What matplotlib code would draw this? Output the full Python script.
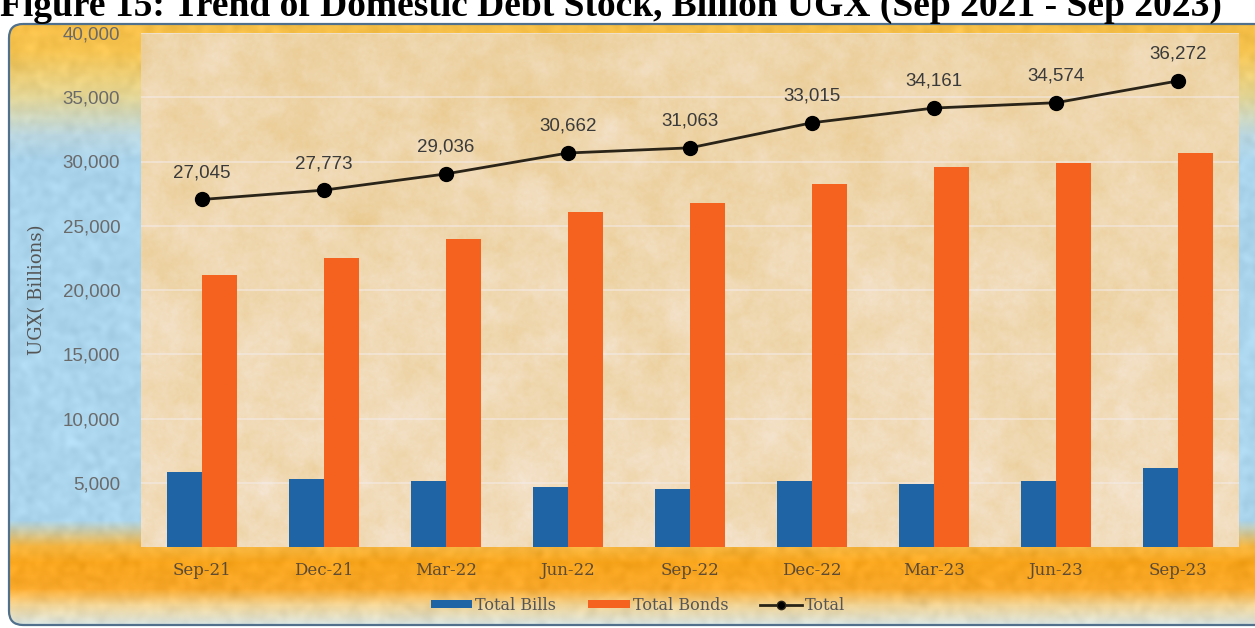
import numpy as np
import matplotlib
matplotlib.use("Agg")
from matplotlib import pyplot as plt
from matplotlib.patches import FancyBboxPatch, Patch
from matplotlib.lines import Line2D

# Domestic debt stock, UGX billions
quarters = ['Sep-21', 'Dec-21', 'Mar-22', 'Jun-22', 'Sep-22',
            'Dec-22', 'Mar-23', 'Jun-23', 'Sep-23']
total_bills = [5850, 5310, 5150, 4690, 4530, 5150, 4920, 5150, 6160]
total_bonds = [21170, 22500, 23970, 26070, 26770, 28250, 29570, 29880, 30660]
total = [27045, 27773, 29036, 30662, 31063, 33015, 34161, 34574, 36272]
y_ticks = [0, 5000, 10000, 15000, 20000, 25000, 30000, 35000, 40000]

W, H = 1255, 628
fig = plt.figure(figsize=(W / 100, H / 100), dpi=100)
fig.patch.set_facecolor('white')


def hex_rgb(c):
    c = c.lstrip('#')
    return np.array([int(c[i:i + 2], 16) / 255 for i in (0, 2, 4)])


def vgrad(h, stops):
    ys = np.arange(h)
    pos = [s[0] for s in stops]
    cols = np.array([hex_rgb(s[1]) for s in stops])
    return np.stack([np.interp(ys, pos, cols[:, k]) for k in range(3)], axis=1)


def smooth_noise(h, w, scale, seed):
    rng = np.random.default_rng(seed)
    n = rng.standard_normal((h, w))
    ky = np.fft.fftfreq(h)[:, None]
    kx = np.fft.fftfreq(w)[None, :]
    g = np.exp(-(kx ** 2 + ky ** 2) * (2 * np.pi * scale) ** 2 / 2)
    s = np.real(np.fft.ifft2(np.fft.fft2(n) * g))
    return (s - s.mean()) / s.std()


# outer panel: orange top, blue middle, orange strip under the axis
bg = fig.add_axes([0, 0, 1, 1], zorder=0)
bg.set_xlim(0, W)
bg.set_ylim(H, 0)
bg.axis('off')
col = vgrad(H, [(0, '#f6b93c'), (50, '#f6c450'), (95, '#e4d594'),
                (135, '#bcd8e2'), (160, '#aad4ec'), (520, '#abd5ec'),
                (546, '#f6b640'), (562, '#f8a51c'), (588, '#f8a82a'),
                (605, '#f1d496'), (628, '#d2e6f0')])
panel = np.repeat(col[:, None, :], W, axis=1)
panel = np.clip(panel + 0.012 * smooth_noise(H, W, 3, 1)[:, :, None], 0, 1)
im = bg.imshow(panel, extent=(0, W, H, 0), aspect='auto', zorder=0)
frame = FancyBboxPatch((9, 24), W + 30, H - 27, boxstyle='round,pad=0,rounding_size=14',
                       facecolor='none', edgecolor='#50708c', linewidth=1.6, zorder=2)
bg.add_patch(frame)
im.set_clip_path(frame)

fig.text(0.0, 1 - 16 / H, 'Figure 15: Trend of Domestic Debt Stock, Billion UGX (Sep 2021 - Sep 2023)',
         fontsize=27, fontweight='bold', family='Liberation Serif', color='black',
         ha='left', va='baseline')

# plot area with a soft parchment fill
ax = fig.add_axes([141 / W, 81 / H, 1098 / W, 514 / H], zorder=1)
ph, pw = 520, 1098
tex = (0.5 * smooth_noise(ph, pw, 12, 7) + 0.3 * smooth_noise(ph, pw, 4, 11)
       + 0.2 * smooth_noise(ph, pw, 1.2, 5))
cream = hex_rgb('#f5e5d2')
tan = hex_rgb('#e9c98c')
mix = 0.42 + 0.16 * tex
top_bias = np.linspace(0.2, -0.12, ph)[:, None]
mix = np.clip(mix + top_bias, 0, 1)
parch = cream[None, None, :] * (1 - mix[:, :, None]) + tan[None, None, :] * mix[:, :, None]
ax.imshow(parch, extent=(0, 1, 0, 1), transform=ax.transAxes, aspect='auto', zorder=0)

x = np.arange(len(quarters))
bw = 0.287
ax.bar(x - bw / 2, total_bills, bw, color='#1f64a5', zorder=3, label='Total Bills')
ax.bar(x + bw / 2, total_bonds, bw, color='#f5621f', zorder=3, label='Total Bonds')
ax.plot(x, total, color='#2a2418', linewidth=2, marker='o', markersize=10,
        markerfacecolor='black', markeredgecolor='black', zorder=4, label='Total')
for xi, v in zip(x, total):
    ax.annotate(f'{v:,}', (xi, v), xytext=(0, 13), textcoords='offset points',
                ha='center', va='bottom', fontsize=13.5, color='#3a3a3a',
                family='Liberation Sans', zorder=5)

ax.set_xlim(-0.5, len(quarters) - 0.5)
ax.set_ylim(0, 40000)
ax.set_yticks(y_ticks)
ax.set_yticklabels([f'{t:,}' if t else '' for t in y_ticks])
ax.set_xticks(x)
ax.set_xticklabels(quarters)
for t in y_ticks[1:]:
    ax.axhline(t, color='#f4ecec', linewidth=1.2, alpha=0.6, zorder=1)
for s in ax.spines.values():
    s.set_visible(False)
ax.tick_params(axis='y', length=0, pad=15, labelsize=13.5, labelcolor='#6a6a6a')
ax.tick_params(axis='x', length=0, pad=11, labelcolor='#5c4a34')
for lab in ax.get_yticklabels():
    lab.set_family('Liberation Sans')
for lab in ax.get_xticklabels():
    lab.set_family('DejaVu Serif')
    lab.set_fontsize(12)
ax.set_ylabel('UGX( Billions)', family='DejaVu Serif', fontsize=13, color='#555555',
              labelpad=12)

handles = [Patch(facecolor='#1f64a5'), Patch(facecolor='#f5621f'),
           Line2D([], [], color='#2a2418', marker='o', markersize=6,
                  markerfacecolor='black', linewidth=2)]
leg = fig.legend(handles, ['Total Bills', 'Total Bonds', 'Total'], ncol=3,
                 loc='center', bbox_to_anchor=(638 / W, 1 - 605 / H), frameon=False,
                 prop={'family': 'DejaVu Serif', 'size': 11.5},
                 handlelength=2.6, handleheight=0.45, handletextpad=0.2, columnspacing=2.0)
for t in leg.get_texts():
    t.set_color('#555555')

fig.savefig('out.png', dpi=100)
